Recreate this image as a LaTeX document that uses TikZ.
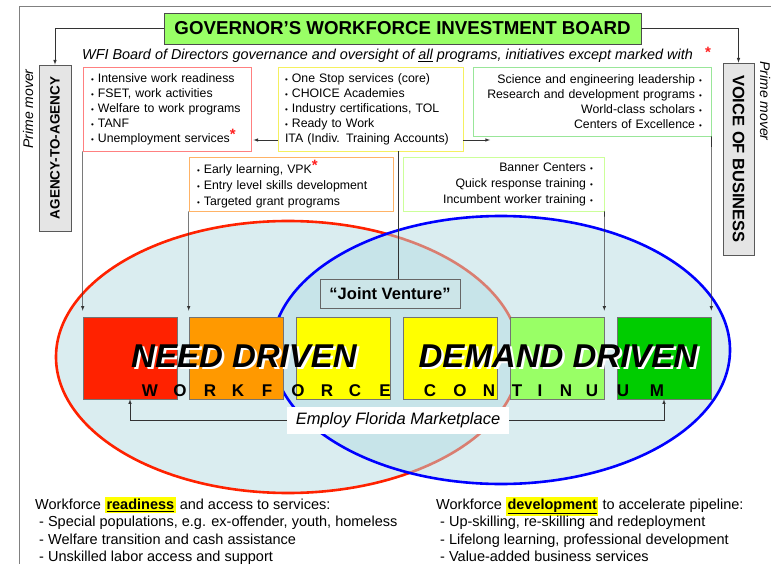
\documentclass[tikz,border=0pt]{standalone}
\usepackage{fontspec}
\setmainfont{Liberation Sans}
\usetikzlibrary{arrows,positioning}
\definecolor{govgreen}{HTML}{99FF66}
\definecolor{sqred}{HTML}{FF2200}
\definecolor{sqorange}{HTML}{FF9900}
\definecolor{sqyellow}{HTML}{FFFF00}
\definecolor{sqlime}{HTML}{99FF66}
\definecolor{sqgreen}{HTML}{00CC00}
\definecolor{venfill}{HTML}{B5DBE2}
\definecolor{jvfill}{HTML}{CCE5E8}
\definecolor{lred}{HTML}{FF8080}
\definecolor{lyellow}{HTML}{F5F060}
\definecolor{lgreen}{HTML}{99E699}
\definecolor{lorange}{HTML}{FFB366}
\definecolor{llime}{HTML}{CCFF99}
\definecolor{starred}{HTML}{FF2020}
\newcommand{\bul}{{\fontsize{8}{8}\selectfont\textbullet}\ }
\newcommand{\rbul}{\ {\fontsize{8}{8}\selectfont\textbullet}}
\newcommand{\rstar}{\raisebox{3pt}{\textcolor{starred}{\bfseries\fontsize{15}{15}\selectfont *}}}
\newcommand{\hl}[1]{{\setlength{\fboxsep}{1.5pt}\colorbox{sqyellow}{\bfseries\underline{#1}}}}
\newcommand{\shadowed}[1]{\makebox[0pt][l]{\hspace{2.5pt}\raisebox{-2.5pt}{\textcolor{white}{#1}}}#1}

\begin{document}
\begin{tikzpicture}[x=1pt,y=-1pt,>=latex,
  conn/.style={draw=black!80,line width=0.6pt},
  listbox/.style={draw,line width=0.9pt,fill=white,inner ysep=0pt,font=\fontsize{12.3}{15}\selectfont},
  graybox/.style={draw=black!65,line width=0.8pt,fill=black!10,inner sep=0pt,font=\bfseries},
  sq/.style={draw=black!55,line width=0.6pt,minimum width=94,minimum height=82,inner sep=0pt},
  bigtext/.style={font=\bfseries\itshape\fontsize{33}{33}\selectfont,inner sep=0pt},
  spaced/.style={font=\bfseries\fontsize{17}{17}\selectfont,inner sep=0pt},
  lowtext/.style={anchor=north west,align=left,inner sep=0pt,font=\fontsize{14.5}{17.5}\selectfont}]
  \useasboundingbox (0,0) rectangle (771,564);
  \draw[black!50,line width=0.7pt] (19,564) -- (19,6) -- (771,6);
% Venn ellipses
  \draw[sqred,line width=2.6pt,fill=venfill,fill opacity=0.5] (288,357) ellipse (232 and 136);
  \draw[blue,line width=2.6pt,fill=venfill,fill opacity=0.5] (501,350) ellipse (229 and 134);
% board and prime movers
  \node[draw=black!70,line width=0.8pt,fill=govgreen,minimum width=477,minimum height=31,
    font=\bfseries\fontsize{18.7}{19}\selectfont] (gov) at (402.5,28.5) {GOVERNOR’S WORKFORCE INVESTMENT BOARD};
  \node[anchor=west,inner sep=0pt,font=\itshape\fontsize{14.4}{16}\selectfont] (wfi) at (82,56)
    {WFI Board of Directors governance and oversight of \underline{all} programs, initiatives except marked with};
  \node[inner sep=0pt] (wfistar) at (708,54) {\rstar};
  \node[graybox,rotate=90,minimum width=166,minimum height=32,font=\bfseries\fontsize{13.5}{14}\selectfont] (agency) at (55,148) {AGENCY-TO-AGENCY};
  \node[graybox,rotate=-90,minimum width=192,minimum height=31,font=\bfseries\fontsize{16.5}{17}\selectfont] (vob) at (738.5,159) {VOICE OF BUSINESS};
  \node[rotate=90,inner sep=0pt,font=\itshape\fontsize{14}{15}\selectfont] (pmleft) at (28,109) {Prime mover};
  \node[rotate=-90,inner sep=0pt,font=\itshape\fontsize{14}{15}\selectfont] (pmright) at (765,101) {Prime mover};
  \draw[conn,->] (gov.west) -| (agency.east);
  \draw[conn,->] (gov.east) -| (vob.west);
% program lists
  \node[listbox,draw=lred,minimum width=168,minimum height=84,inner xsep=8pt,text width=152,align=left] (rbox) at (167,109)
    {\bul Intensive work readiness\\ \bul FSET, work activities\\ \bul Welfare to work programs\\ \bul TANF\\ \bul Unemployment services\rstar};
  \node[listbox,draw=lyellow,minimum width=185,minimum height=84,inner xsep=7pt,text width=171,align=left] (ybox) at (370.5,109)
    {\bul One Stop services (core)\\ \bul CHOICE Academies\\ \bul Industry certifications, TOL\\ \bul Ready to Work\\ ITA (Indiv. Training Accounts)};
  \node[listbox,draw=lgreen,minimum width=238,minimum height=69,inner xsep=9pt,text width=220,align=right] (sbox) at (592,101.5)
    {Science and engineering leadership\rbul\\ Research and development programs\rbul\\ World-class scholars\rbul\\ Centers of Excellence\rbul};
  \node[listbox,draw=lorange,minimum width=204,minimum height=54,inner xsep=8pt,text width=188,align=left,
    font=\fontsize{12.3}{16}\selectfont] (obox) at (291,184)
    {\bul Early learning, VPK\rstar\\ \bul Entry level skills development\\ \bul Targeted grant programs};
  \node[listbox,draw=llime,minimum width=201,minimum height=54,inner xsep=11pt,text width=179,align=right,
    font=\fontsize{12.3}{16}\selectfont] (lbox) at (503.5,184)
    {Banner Centers\rbul\\ Quick response training\rbul\\ Incumbent worker training\rbul};
  \coordinate (ita) at (490,140);
  \draw[conn,->] (ybox.west |- ita) -- ([xshift=2pt]rbox.east |- ita);
  \draw[conn,->] (ybox.east |- ita) -- (ita);
% continuum squares
  \node[sq,fill=sqred] (sq1) at (130,358) {};
  \node[sq,fill=sqorange] (sq2) at (236,358) {};
  \node[sq,fill=sqyellow] (sq3) at (343,358) {};
  \node[sq,fill=sqyellow] (sq4) at (450,358) {};
  \node[sq,fill=sqlime] (sq5) at (557,358) {};
  \node[sq,fill=sqgreen] (sq6) at (664,358) {};
  \draw[conn,->,shorten >=6pt] (rbox.south west) -- (sq1.north west);
  \draw[conn,->,shorten >=6pt] (obox.south west) -- (sq2.north west);
  \draw[conn,->,shorten >=6pt] (lbox.south east) -- (sq5.north east);
  \draw[conn,->,shorten >=6pt] (sbox.south east) -- (sq6.north east);
  \node[draw=black!60,line width=0.8pt,fill=jvfill,minimum width=140,minimum height=29,inner sep=0pt,
    font=\bfseries\fontsize{16.5}{17}\selectfont] (jv) at (390,293.5) {“Joint Venture”};
  \draw[conn] ([xshift=8pt]jv.north) -- ([xshift=8pt]jv.north |- ybox.south);
  \node[bigtext] (need) at (244,357) {\shadowed{NEED DRIVEN}};
  \node[bigtext] (demand) at (558,357) {\shadowed{DEMAND DRIVEN}};
  \foreach \ch/\px in {W/150,O/180,R/210,K/238,F/267,O/298,R/327,C/355,E/385,
                       C/430,O/460,N/489,T/517,I/540,N/566,U/592,U/623,M/657}
    \node[spaced] (ltr\px) at (\px,391) {\ch};
  \node[fill=white,minimum width=222,minimum height=27,inner sep=0pt,
    font=\itshape\fontsize{16.5}{17}\selectfont] (employ) at (398,420) {Employ Florida Marketplace};
  \draw[conn,->] (employ.west) -| (sq1.south);
  \draw[conn,->] (employ.east) -| (sq6.south);
% bottom notes
  \node[lowtext] (ready) at (35,497)
    {Workforce \hl{readiness} and access to services:\\
     \ - Special populations, e.g. ex-offender, youth, homeless\\
     \ - Welfare transition and cash assistance\\
     \ - Unskilled labor access and support};
  \node[lowtext] (develop) at (436,497)
    {Workforce \hl{development} to accelerate pipeline:\\
     \ - Up-skilling, re-skilling and redeployment\\
     \ - Lifelong learning, professional development\\
     \ - Value-added business services};
\end{tikzpicture}
\end{document}
